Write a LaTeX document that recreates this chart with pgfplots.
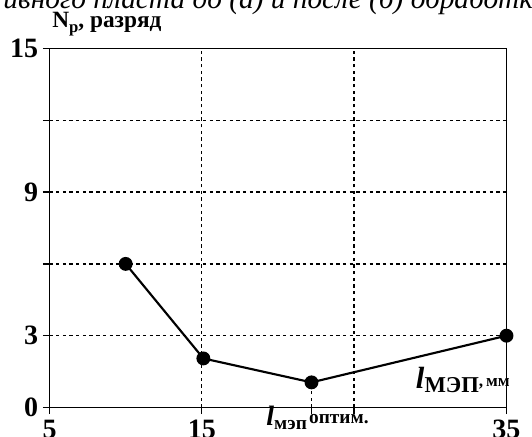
\documentclass[border=0pt]{standalone}
\usepackage{pgfplots}
\pgfplotsset{compat=1.18}
\usepackage{fontspec}
\setmainfont{Liberation Serif}
\begin{document}
\begin{tikzpicture}[x=0.75pt,y=0.75pt]
\path[use as bounding box] (0,0) rectangle (532,436);
\begin{axis}[
 at={(37.125pt,21.375pt)}, anchor=south west,
 scale only axis, width=342.75pt, height=269.25pt,
 xmin=5, xmax=35, ymin=0, ymax=15,
 axis line style={line width=1.3pt},
 xtick={5,15,25,35}, xticklabels={5,15,,35},
 extra x ticks={22.2}, extra x tick labels={}, extra x tick style={grid=none},
 ytick={0,3,6,9,12,15}, yticklabels={0,3,,9,,15},
 tick align=outside, xtick pos=bottom, ytick pos=left,
 major tick length=5pt,
 tick style={line width=1pt, black},
 grid=major,
 major grid style={line width=1pt, dash pattern=on 2.5pt off 2.5pt, black},
 ticklabel style={font=\fontsize{21}{21}\selectfont\bfseries},
 xticklabel style={yshift=-1pt},
 /pgf/number format/assume math mode=true,
 clip=false,
]
\addplot[black, line width=1pt, dash pattern=on 2.5pt off 2.5pt, forget plot] coordinates {(22.2,0) (22.2,1.05)};
\addplot[black, line width=1.6pt, mark=*, mark size=4.4pt] coordinates {
 (10,6) (15.1,2.05) (22.2,1.05) (35,3)
};
\end{axis}
\node[anchor=base east, font=\fontsize{22}{22}\selectfont\itshape, inner sep=0pt] at (548,427) {ивного пласта до (а) и после (б) обработки};
\node[anchor=base west, font=\fontsize{17.5}{17.5}\selectfont\bfseries, inner sep=0pt] at (52,408) {N\raisebox{-0.2em}{\fontsize{12.5}{12.5}\selectfont р}, разряд};
\node[anchor=base east, inner sep=0pt] at (510,48) {{\fontsize{23}{23}\selectfont\bfseries\itshape l}\raisebox{-0.3em}{\fontsize{17}{17}\selectfont\bfseries МЭП}\raisebox{0.1em}{\fontsize{13}{13}\selectfont\bfseries ,\,мм}};
\node[anchor=base west, inner sep=0pt] at (266,11) {{\fontsize{21}{21}\selectfont\bfseries\itshape l}\raisebox{-0.3em}{\fontsize{14.5}{14.5}\selectfont\bfseries мэп}\,\raisebox{0.15em}{\fontsize{14.5}{14.5}\selectfont\bfseries оптим.}};
\end{tikzpicture}
\end{document}
